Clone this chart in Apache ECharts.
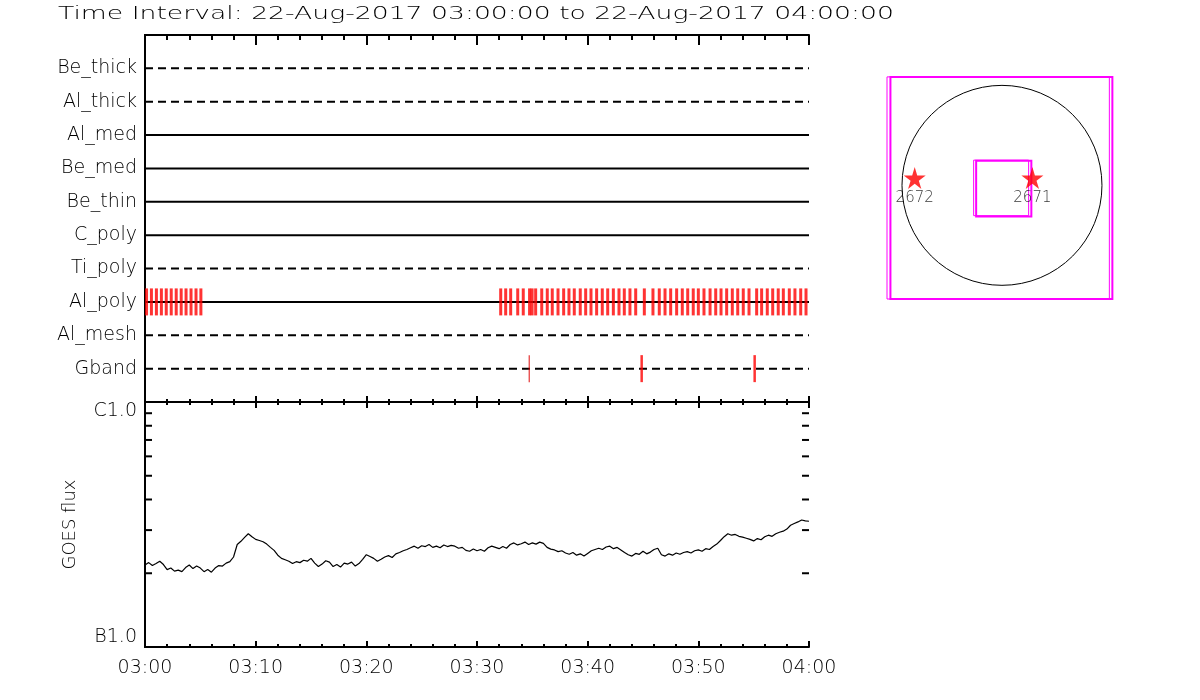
<!DOCTYPE html>
<html>
<head>
<meta charset="utf-8">
<title>Time Interval</title>
<script src="https://cdn.jsdelivr.net/npm/echarts@6/dist/echarts.min.js"></script>
<style>
html, body { margin: 0; padding: 0; background: #fff; }
#chart { width: 1200px; height: 700px; }
</style>
</head>
<body>
<div id="chart"></div>
<script>
var titleText = 'Time Interval: 22-Aug-2017 03:00:00 to 22-Aug-2017 04:00:00';
var startHour = 3;

// detector channels, top to bottom
var channels = ['Be_thick', 'Al_thick', 'Al_med', 'Be_med', 'Be_thin', 'C_poly', 'Ti_poly', 'Al_poly', 'Al_mesh', 'Gband'];
var dashedChannels = ['Be_thick', 'Al_thick', 'Ti_poly', 'Al_mesh', 'Gband'];

// event marks, minutes after 03:00
var alPolyTimes = [0.14, 0.58, 1.03, 1.48, 1.92, 2.37, 2.82, 3.27, 3.71, 4.16, 4.61, 5.05,
  32.14, 32.59, 33.04, 33.68, 34.18, 34.75, 34.98, 35.30, 35.85, 36.35, 36.80, 37.32, 37.83,
  38.31, 38.79, 39.33, 39.82, 40.30, 40.81, 41.32, 41.81, 42.32, 42.83, 43.31, 43.82, 44.34,
  45.12, 45.90, 46.47, 46.99, 47.50, 48.04, 48.55, 49.04, 49.54, 50.00, 50.51, 51.06, 51.57,
  52.05, 52.56, 53.07, 53.56, 54.06, 54.58, 55.27, 55.72, 56.23, 56.72, 57.22, 57.68, 58.22,
  58.73, 59.25, 59.73];
var gbandFaint = [34.72];
var gbandTimes = [44.88, 55.09];

// GOES 1-8 A flux in units of 1e-7 W/m2 (B class), one value every 20 s from 03:00
var goesStep = 1 / 3;
var goesFlux = [
  2.16, 2.21, 2.15, 2.19, 2.24, 2.17, 2.07, 2.10, 2.04, 2.06, 2.03, 2.11,
  2.16, 2.09, 2.14, 2.10, 2.03, 2.07, 2.02, 2.10, 2.15, 2.14, 2.20, 2.23,
  2.33, 2.62, 2.70, 2.80, 2.90, 2.82, 2.75, 2.72, 2.69, 2.63, 2.55, 2.48,
  2.37, 2.30, 2.27, 2.24, 2.19, 2.23, 2.21, 2.26, 2.24, 2.30, 2.20, 2.13,
  2.18, 2.25, 2.22, 2.13, 2.17, 2.12, 2.20, 2.18, 2.22, 2.14, 2.19, 2.28,
  2.38, 2.34, 2.30, 2.24, 2.28, 2.33, 2.36, 2.32, 2.40, 2.43, 2.47, 2.50,
  2.54, 2.58, 2.53, 2.59, 2.57, 2.62, 2.55, 2.58, 2.54, 2.61, 2.57, 2.60,
  2.58, 2.53, 2.55, 2.48, 2.46, 2.51, 2.47, 2.50, 2.46, 2.54, 2.58, 2.55,
  2.52, 2.57, 2.53, 2.62, 2.66, 2.61, 2.64, 2.68, 2.62, 2.66, 2.63, 2.68,
  2.65, 2.55, 2.51, 2.49, 2.45, 2.47, 2.42, 2.39, 2.43, 2.37, 2.40, 2.35,
  2.41, 2.47, 2.50, 2.53, 2.50, 2.56, 2.58, 2.52, 2.55, 2.49, 2.43, 2.38,
  2.35, 2.41, 2.39, 2.46, 2.40, 2.44, 2.50, 2.53, 2.38, 2.35, 2.40, 2.37,
  2.42, 2.39, 2.43, 2.45, 2.42, 2.47, 2.49, 2.46, 2.52, 2.50, 2.57, 2.63,
  2.72, 2.82, 2.90, 2.86, 2.88, 2.83, 2.81, 2.78, 2.75, 2.71, 2.77, 2.74,
  2.82, 2.86, 2.83, 2.90, 2.94, 2.97, 3.03, 3.14, 3.19, 3.24, 3.30, 3.27,
  3.26
];
var fluxMinorTicks = [2, 3, 4, 5, 6, 7, 8, 9];
var fluxLabels = { 1: 'B1.0', 10: 'C1.0' };

// solar disk panel, arcsec
var sunRadius = 960;
var fovBoxes = [[-1104, -1091, 1031, 1041], [-1071, -1091, 1060, 1041], [-272, -291, 256, 242], [-248, -300, 282, 237]];
var spotNames = ['2672', '2671'];
var spotX = [-838, 292];
var spotY = [71, 71];

function pad(n) { return (n < 10 ? '0' : '') + n; }
function timeLabel(v) {
  var h = startHour + Math.floor(v / 60);
  return pad(h) + ':' + pad(Math.round(v % 60));
}
function rowOf(name) { return channels.length - 1 - channels.indexOf(name); }

var black = '#000';
var font = 'DejaVu Sans';
var chart = echarts.init(document.getElementById('chart'));

function timeAxis(grid, pos, major, minor, labels) {
  return {
    type: 'value', gridIndex: grid, position: pos, min: 0, max: 60, interval: 10,
    axisLine: { show: true, onZero: false, lineStyle: { color: black, width: 2 } },
    axisTick: { show: true, inside: true, length: major, lineStyle: { color: black, width: 2 } },
    minorTick: { show: true, splitNumber: 5, length: minor, lineStyle: { color: black, width: 2 } },
    axisLabel: labels ? { show: true, formatter: timeLabel, color: black, fontSize: 19, fontWeight: 200, fontFamily: font, margin: 12 } : { show: false },
    splitLine: { show: false }
  };
}

var series = [];
channels.forEach(function (name) {
  var r = rowOf(name);
  series.push({
    type: 'line', xAxisIndex: 0, yAxisIndex: 0, symbol: 'none', silent: true,
    data: [[0, r], [60, r]],
    lineStyle: { color: black, width: 2, type: dashedChannels.indexOf(name) >= 0 ? [8, 5] : 'solid' }
  });
});
series.push({
  type: 'scatter', xAxisIndex: 0, yAxisIndex: 0, symbol: 'rect', symbolSize: [3, 27], silent: true, z: 5,
  itemStyle: { color: '#ff0000' },
  data: alPolyTimes.map(function (t) { return [t, rowOf('Al_poly')]; })
});
series.push({
  type: 'scatter', xAxisIndex: 0, yAxisIndex: 0, symbol: 'rect', symbolSize: [2.5, 27], silent: true, z: 5,
  itemStyle: { color: '#ff0000' },
  data: gbandTimes.map(function (t) { return [t, rowOf('Gband')]; })
});
series.push({
  type: 'scatter', xAxisIndex: 0, yAxisIndex: 0, symbol: 'rect', symbolSize: [1.2, 27], silent: true, z: 5,
  itemStyle: { color: '#dd0000' },
  data: gbandFaint.map(function (t) { return [t, rowOf('Gband')]; })
});
series.push({
  type: 'line', xAxisIndex: 3, yAxisIndex: 2, symbol: 'none', silent: true,
  data: goesFlux.map(function (v, i) { return [i * goesStep, v]; }),
  lineStyle: { color: black, width: 1.2 }
});
series.push({
  type: 'custom', xAxisIndex: 3, yAxisIndex: 2, silent: true, clip: false,
  data: fluxMinorTicks.map(function (v) { return [0, v]; }),
  renderItem: function (params, api) {
    var l = api.coord([0, api.value(1)]);
    var r = api.coord([60, api.value(1)]);
    return { type: 'group', children: [
      { type: 'line', shape: { x1: l[0], y1: l[1], x2: l[0] + 7, y2: l[1] }, style: { stroke: black, lineWidth: 2 } },
      { type: 'line', shape: { x1: r[0] - 7, y1: r[1], x2: r[0], y2: r[1] }, style: { stroke: black, lineWidth: 2 } }
    ] };
  }
});
// solar disk
series.push({
  type: 'custom', xAxisIndex: 4, yAxisIndex: 4, silent: true, clip: false,
  data: [[0, 0, sunRadius]],
  renderItem: function (params, api) {
    var c = api.coord([api.value(0), api.value(1)]);
    var r = api.size([api.value(2), 0])[0];
    return { type: 'circle', shape: { cx: c[0], cy: c[1], r: r }, style: { fill: 'none', stroke: black, lineWidth: 1 } };
  }
});
series.push({
  type: 'custom', xAxisIndex: 4, yAxisIndex: 4, silent: true, clip: false,
  data: fovBoxes,
  renderItem: function (params, api) {
    var p0 = api.coord([api.value(0), api.value(3)]);
    var p1 = api.coord([api.value(2), api.value(1)]);
    return { type: 'rect', shape: { x: p0[0], y: p0[1], width: p1[0] - p0[0], height: p1[1] - p0[1] },
      style: { fill: 'none', stroke: '#ff00ff', lineWidth: params.dataIndex % 2 === 0 ? 1 : 2 } };
  }
});
series.push({
  type: 'scatter', xAxisIndex: 4, yAxisIndex: 4, silent: true, z: 6,
  symbol: 'path://M50,0 L61,35 L98,35 L68,57 L79,91 L50,70 L21,91 L32,57 L2,35 L39,35 Z',
  symbolSize: 22, itemStyle: { color: '#ff0000' },
  label: { show: true, position: 'bottom', distance: 2, formatter: '{b}', color: black, fontSize: 15, fontWeight: 200, fontFamily: font },
  data: spotNames.map(function (n, i) { return { name: n, value: [spotX[i], spotY[i]] }; })
});

chart.setOption({
  animation: false,
  backgroundColor: '#fff',
  graphic: [{
    type: 'text', left: 58, top: 5, scaleX: 1.48,
    style: { text: titleText, fill: black, font: '200 18px "DejaVu Sans"' }
  }],
  grid: [
    { left: 145, top: 35, width: 664, height: 367 },
    { left: 145, top: 402, width: 664, height: 245 },
    { left: 887, top: 77, width: 226, height: 222 }
  ],
  xAxis: [
    timeAxis(0, 'bottom', 6, 3, false),
    timeAxis(0, 'top', 10, 5, false),
    timeAxis(1, 'top', 6, 3, false),
    timeAxis(1, 'bottom', 6, 3, true),
    { type: 'value', gridIndex: 2, min: -1104, max: 1066, show: false }
  ],
  yAxis: [
    {
      type: 'value', gridIndex: 0, position: 'left', min: -1, max: 10, interval: 1,
      axisLine: { show: true, lineStyle: { color: black, width: 2 } },
      axisTick: { show: false }, splitLine: { show: false },
      axisLabel: { color: black, fontSize: 19, fontWeight: 200, fontFamily: font, margin: 8,
        formatter: function (v) { return channels[channels.length - 1 - v] || ''; } }
    },
    {
      type: 'value', gridIndex: 0, position: 'right', min: -1, max: 10, interval: 1,
      axisLine: { show: true, lineStyle: { color: black, width: 2 } },
      axisTick: { show: false }, axisLabel: { show: false }, splitLine: { show: false }
    },
    {
      type: 'log', gridIndex: 1, position: 'left', min: 1, max: 10, logBase: 10,
      name: 'GOES flux', nameLocation: 'middle', nameGap: 66, nameRotate: 90,
      nameTextStyle: { color: black, fontSize: 18, fontWeight: 200, fontFamily: font },
      axisLine: { show: true, lineStyle: { color: black, width: 2 } },
      axisTick: { show: false }, splitLine: { show: false },
      axisLabel: { color: black, fontSize: 19, fontWeight: 200, fontFamily: font, margin: 8,
        verticalAlignMaxLabel: 'top', verticalAlignMinLabel: 'bottom',
        formatter: function (v) { return fluxLabels[Math.round(v)] || ''; } }
    },
    {
      type: 'log', gridIndex: 1, position: 'right', min: 1, max: 10, logBase: 10,
      axisLine: { show: true, lineStyle: { color: black, width: 2 } },
      axisTick: { show: false }, axisLabel: { show: false }, splitLine: { show: false }
    },
    { type: 'value', gridIndex: 2, min: -1091, max: 1040, show: false }
  ],
  series: series
});
</script>
</body>
</html>
